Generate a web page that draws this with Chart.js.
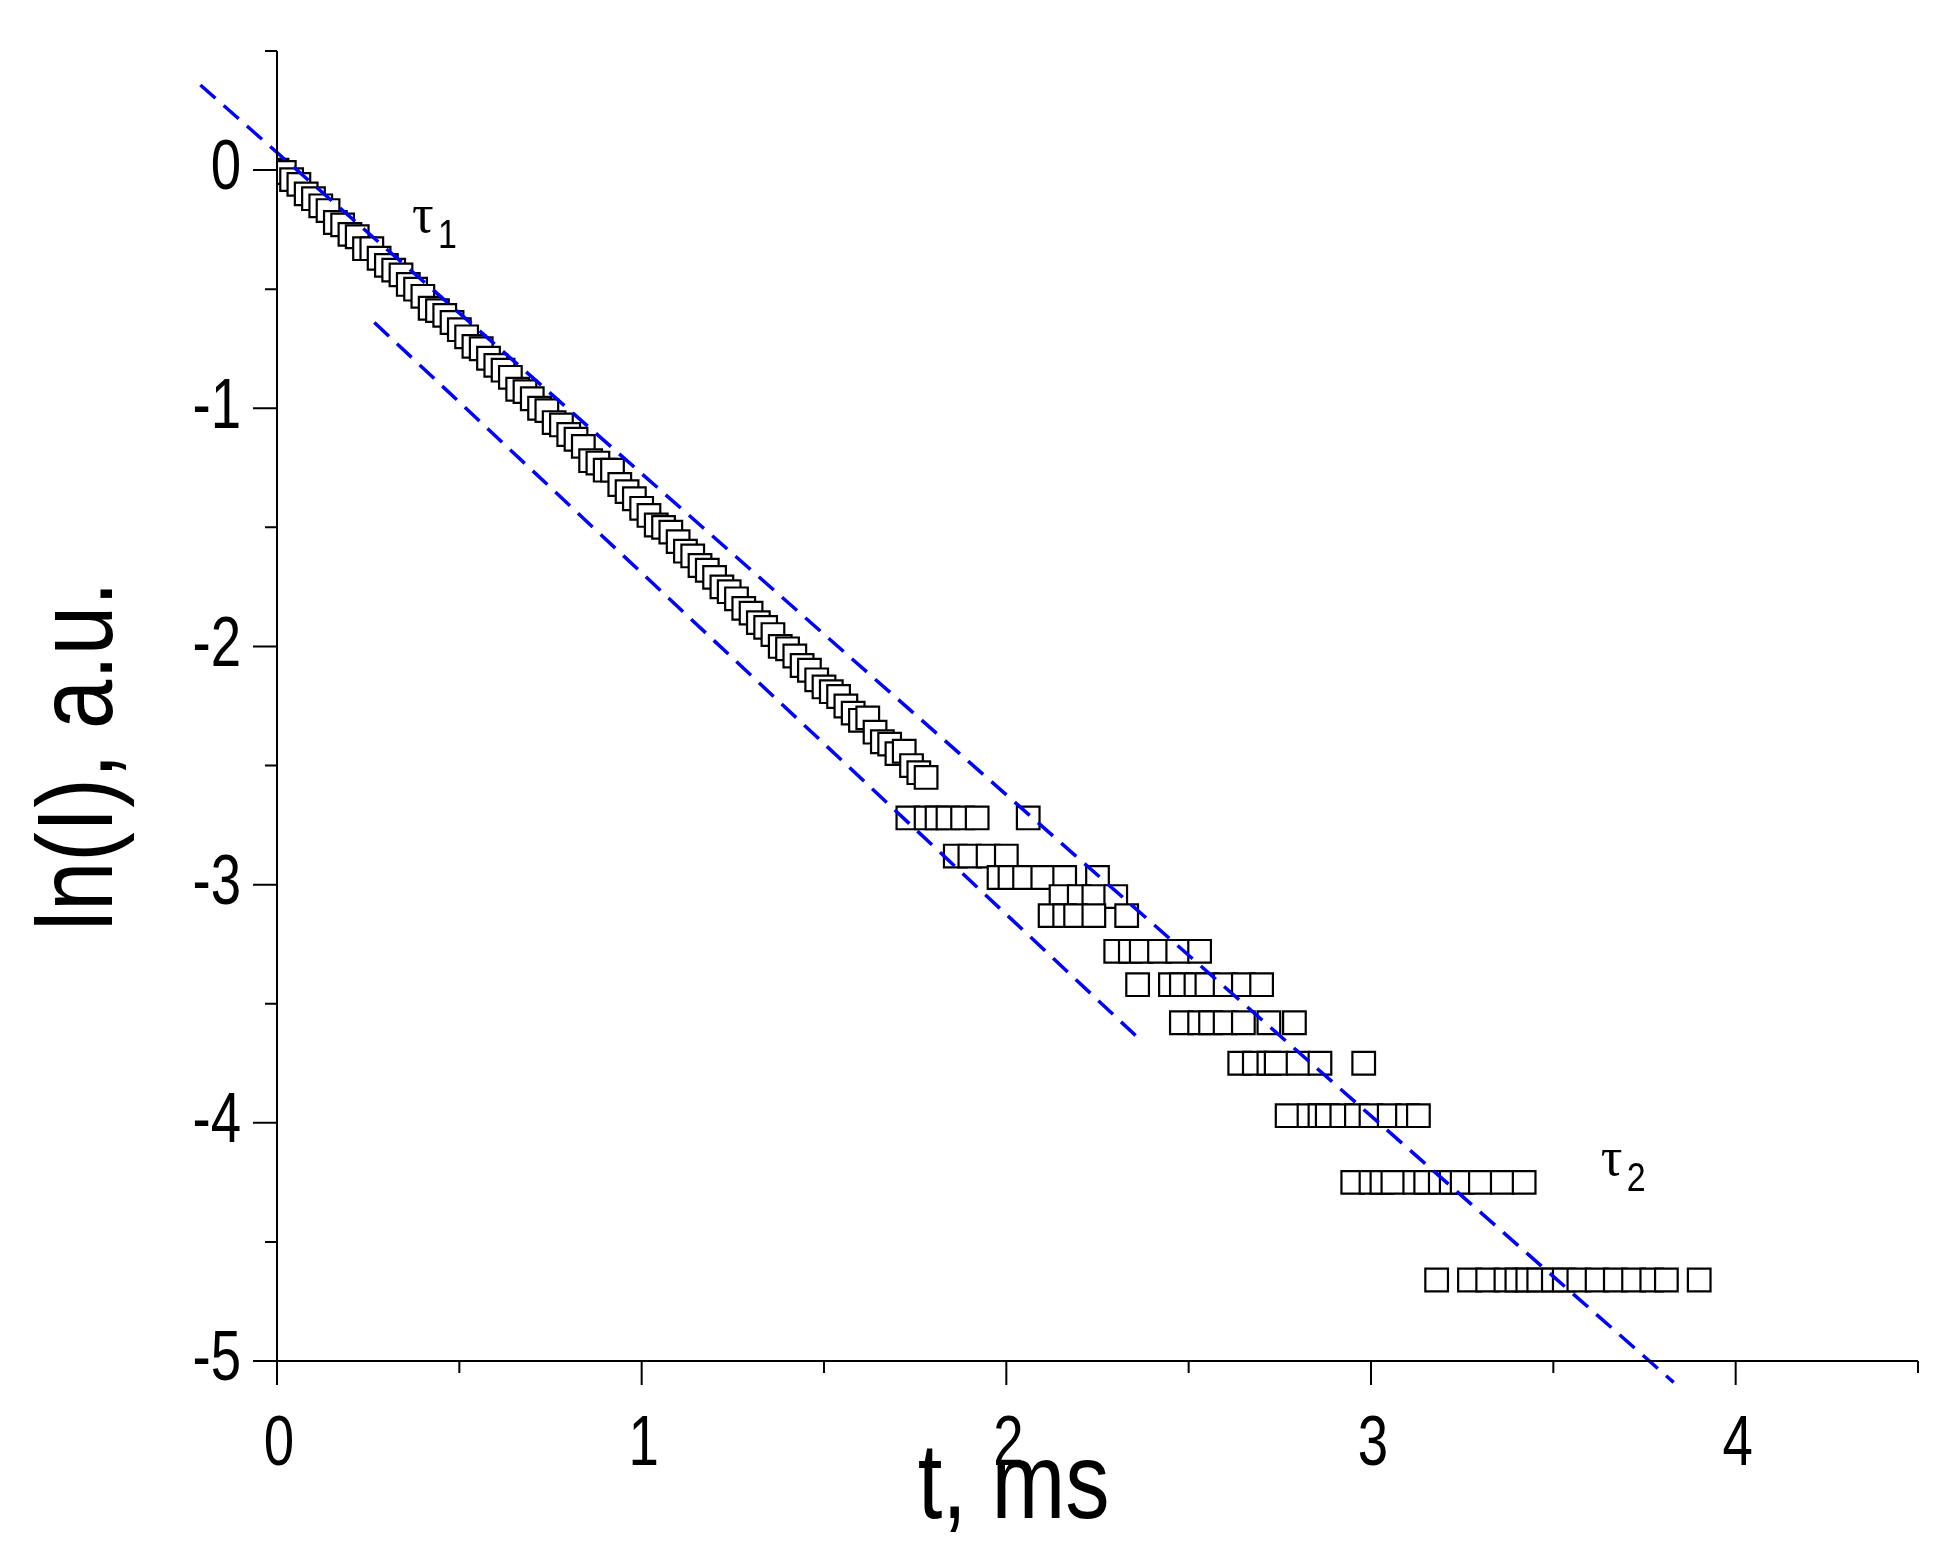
<!DOCTYPE html>
<html><head><meta charset="utf-8">
<script src="https://cdn.jsdelivr.net/npm/chart.js@4.4.1/dist/chart.umd.min.js"></script>
<style>html,body{margin:0;padding:0;background:#fff}#w{width:1950px;height:1557px}</style>
</head><body><div id="w"><canvas id="c"></canvas></div>
<script>
const tEarly = [0.00,0.02,0.04,0.06,0.08,0.10,0.12,0.14,0.16,0.18,0.20,0.22,0.24,0.26,0.28,0.30,0.32,0.34,0.36,0.38,0.40,0.42,0.44,0.46,0.48,0.50,0.52,0.54,0.56,0.58,0.60,0.62,0.64,0.66,0.68,0.70,0.72,0.74,0.76,0.78,0.80,0.82,0.84,0.86,0.88,0.90,0.92,0.94,0.96,0.98,1.00,1.02,1.04,1.06,1.08,1.10,1.12,1.14,1.16,1.18,1.20,1.22,1.24,1.26,1.28,1.30,1.32,1.34,1.36,1.38,1.40,1.42,1.44,1.46,1.48,1.50,1.52,1.54,1.56,1.58,1.60,1.62,1.64,1.66,1.68,1.70,1.72,1.74,1.76,1.78];
const yEarly = [0.00,-0.01,-0.04,-0.06,-0.10,-0.12,-0.15,-0.17,-0.22,-0.23,-0.27,-0.28,-0.33,-0.33,-0.37,-0.40,-0.42,-0.44,-0.48,-0.50,-0.53,-0.58,-0.59,-0.61,-0.64,-0.67,-0.70,-0.74,-0.75,-0.79,-0.82,-0.84,-0.87,-0.92,-0.93,-0.96,-1.00,-1.01,-1.06,-1.07,-1.11,-1.13,-1.16,-1.22,-1.23,-1.26,-1.26,-1.32,-1.35,-1.38,-1.42,-1.45,-1.49,-1.50,-1.52,-1.56,-1.60,-1.62,-1.66,-1.68,-1.71,-1.75,-1.77,-1.80,-1.84,-1.86,-1.90,-1.92,-1.95,-2.00,-2.01,-2.04,-2.08,-2.10,-2.14,-2.17,-2.19,-2.21,-2.25,-2.28,-2.31,-2.30,-2.36,-2.40,-2.41,-2.45,-2.44,-2.50,-2.53,-2.55];
const levels = [-2.72,-2.88,-2.97,-3.05,-3.13,-3.28,-3.42,-3.58,-3.75,-3.97,-4.25,-4.66];
const levelTimes = [
 [1.73,1.78,1.81,1.84,1.88,1.92,2.06],
 [1.86,1.90,1.95,2.00],
 [1.98,2.01,2.05,2.10,2.16,2.25],
 [2.15,2.20,2.24,2.30],
 [2.12,2.16,2.19,2.24,2.33],
 [2.30,2.34,2.37,2.42,2.47,2.53],
 [2.36,2.45,2.48,2.52,2.55,2.60,2.65,2.70],
 [2.48,2.53,2.56,2.60,2.65,2.72,2.79],
 [2.64,2.68,2.72,2.74,2.80,2.86,2.98],
 [2.77,2.83,2.86,2.88,2.92,2.96,3.00,3.05,3.10,3.13],
 [2.95,3.00,3.03,3.06,3.12,3.15,3.19,3.22,3.25,3.30,3.36,3.42],
 [3.18,3.27,3.32,3.37,3.40,3.43,3.46,3.50,3.53,3.57,3.62,3.67,3.72,3.77,3.81,3.90]
];
const fit1X = [-0.21, 3.83], fit1Y = [0.357, -5.09];
const fit2X = [0.267, 2.366], fit2Y = [-0.64, -3.65];
const xMajor = [0,1,2,3,4], xMinor = [0.5,1.5,2.5,3.5,4.5];
const yMajor = [0,-1,-2,-3,-4,-5], yMinor = [0.5,-0.5,-1.5,-2.5,-3.5,-4.5];
const xLabels = ['0','1','2','3','4'], yLabels = ['0','-1','-2','-3','-4','-5'];
const tau1 = {x:0.37, y:-0.26}, tau2 = {x:3.63, y:-4.22};

const pts = tEarly.map((t,i)=>({x:t,y:yEarly[i]}));
levels.forEach((l,i)=>levelTimes[i].forEach(t=>pts.push({x:t,y:l})));
const FONT = '"Liberation Sans",Arial,sans-serif';

function narrowText(c, s, x, y, sx){ c.save(); c.translate(x,y); c.scale(sx,1); c.fillText(s,0,0); c.restore(); }

const axesPlugin = {
 id:'axes',
 afterDraw(ch){
  const c=ch.ctx, xs=ch.scales.x, ys=ch.scales.y, a=ch.chartArea;
  c.save(); c.strokeStyle='#000'; c.lineWidth=2;
  c.beginPath(); c.moveTo(a.left,a.top); c.lineTo(a.left,a.bottom); c.lineTo(a.right,a.bottom); c.stroke();
  c.beginPath();
  xMajor.forEach(v=>{const p=xs.getPixelForValue(v); c.moveTo(p,a.bottom); c.lineTo(p,a.bottom+24);});
  xMinor.forEach(v=>{const p=xs.getPixelForValue(v); c.moveTo(p,a.bottom); c.lineTo(p,a.bottom+12);});
  yMajor.forEach(v=>{const p=ys.getPixelForValue(v); c.moveTo(a.left,p); c.lineTo(a.left-24,p);});
  yMinor.forEach(v=>{const p=ys.getPixelForValue(v); c.moveTo(a.left,p); c.lineTo(a.left-12,p);});
  c.stroke();
  c.fillStyle='#000'; c.font='70px '+FONT;
  c.textAlign='center'; c.textBaseline='top';
  xMajor.forEach((v,i)=>narrowText(c, xLabels[i], xs.getPixelForValue(v)+2, a.bottom+50, 0.78));
  c.textAlign='right'; c.textBaseline='middle';
  yMajor.forEach((v,i)=>narrowText(c, yLabels[i], a.left-36, ys.getPixelForValue(v), 0.78));
  c.font='108px '+FONT; c.textAlign='center'; c.textBaseline='alphabetic';
  narrowText(c, 't, ms', xs.getPixelForValue(2.02), 1518, 0.82);
  c.save(); c.translate(112, ys.getPixelForValue(-2.46)); c.rotate(-Math.PI/2); c.scale(0.82,1);
  c.fillText('ln(I), a.u.', 0, 0); c.restore();
  [[tau1,'1'],[tau2,'2']].forEach(([p,s])=>{
   const px=xs.getPixelForValue(p.x), py=ys.getPixelForValue(p.y);
   c.textAlign='left'; c.font='54px "Liberation Serif",serif';
   c.fillText('τ', px, py); c.font='40px "Liberation Sans",sans-serif'; narrowText(c, s, px+26, py+16, 0.85);
  });
  c.restore();
 }
};

new Chart(document.getElementById('c'),{
 type:'scatter',
 data:{datasets:[
  {data:pts, pointStyle:'rect', pointRadius:16, pointBorderWidth:2.2, pointBorderColor:'#000', pointBackgroundColor:'#fff', showLine:false, order:2},
  {data:fit1X.map((x,i)=>({x,y:fit1Y[i]})), showLine:true, borderColor:'#0000ff', borderWidth:3.5, borderDash:[20,11], pointRadius:0, clip:false, order:1},
  {data:fit2X.map((x,i)=>({x,y:fit2Y[i]})), showLine:true, borderColor:'#0000ff', borderWidth:3.5, borderDash:[20,11], pointRadius:0, clip:false, order:1}
 ]},
 options:{
  responsive:true, maintainAspectRatio:false, animation:false, devicePixelRatio:1,
  layout:{padding:{top:51,right:32,left:0,bottom:0}},
  plugins:{legend:{display:false},tooltip:{enabled:false}},
  scales:{
   x:{type:'linear',min:0,max:4.5,grid:{display:false},border:{display:false},ticks:{display:false},afterFit(s){s.height=196;}},
   y:{type:'linear',min:-5,max:0.5,grid:{display:false},border:{display:false},ticks:{display:false},afterFit(s){s.width=277;}}
  }
 },
 plugins:[axesPlugin]
});
</script></body></html>
